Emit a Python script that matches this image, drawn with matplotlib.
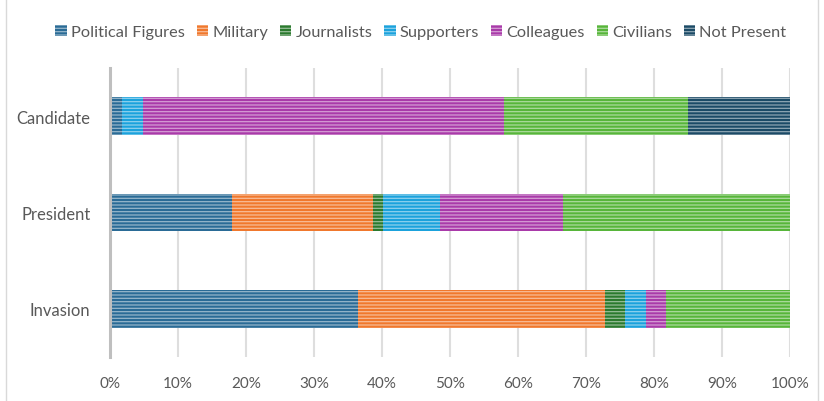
import numpy as np
import matplotlib.pyplot as plt
from matplotlib.patches import Patch
from matplotlib.lines import Line2D
from matplotlib.ticker import PercentFormatter

# stages, bottom to top
stages = ["Invasion", "President", "Candidate"]
groups = ["Political Figures", "Military", "Journalists", "Supporters",
          "Colleagues", "Civilians", "Not Present"]

# share of each group (%) per stage, order matches stages
political = [36.4, 17.9, 1.8]
military = [36.4, 20.8, 0.0]
journalists = [3.0, 1.4, 0.0]
supporters = [3.0, 8.4, 3.1]
colleagues = [3.0, 18.1, 53.0]
civilians = [18.2, 33.4, 27.1]
not_present = [0.0, 0.0, 15.0]

colors = ["#2a6b96", "#f0782d", "#2b7a2e", "#1ba2dc",
          "#a93aa9", "#57b53a", "#1b4a66"]

plt.rcParams["font.family"] = ["Lato", "DejaVu Sans"]
plt.rcParams["hatch.color"] = (1, 1, 1, 0.5)
plt.rcParams["hatch.linewidth"] = 0.9

fig = plt.figure(figsize=(8.24, 4.02), dpi=100)
ax = fig.add_axes([110 / 824, 1 - 358 / 402, 680 / 824, 289 / 402])

series = [political, military, journalists, supporters,
          colleagues, civilians, not_present]
y = np.arange(len(stages))
left = np.zeros(len(stages))
for name, vals, c in zip(groups, series, colors):
    vals = np.array(vals)
    ax.barh(y, vals, left=left, height=0.39, color=c, hatch="-----",
            label=name, zorder=3)
    left += vals

ax.set_xlim(0, 100)
ax.set_ylim(-0.5, 2.5)
ax.set_xticks(np.arange(0, 101, 10))
ax.xaxis.set_major_formatter(PercentFormatter(decimals=0))
ax.set_yticks(y)
ax.set_yticklabels(stages)
ax.tick_params(axis="both", length=0, colors="#595959")
ax.tick_params(axis="x", pad=14, labelsize=11)
ax.tick_params(axis="y", pad=14, labelsize=12)

ax.grid(axis="x", color="#dedede", linewidth=1.5, zorder=0)
for s in ["top", "right", "bottom"]:
    ax.spines[s].set_visible(False)
ax.spines["left"].set_color("#bfbfbf")
ax.spines["left"].set_linewidth(2.2)
ax.spines["left"].set_zorder(4)

handles = [Patch(facecolor=c, hatch="-----", label=n)
           for n, c in zip(groups, colors)]
fig.legend(handles=handles, loc="center",
           bbox_to_anchor=(0.5 + 9 / 824, 1 - 33 / 402),
           ncol=7, frameon=False, fontsize=11.8, labelcolor="#595959",
           handlelength=0.7, handleheight=0.7, handletextpad=0.25,
           columnspacing=0.72)

# chart-area border edges
for xpix in (6, 818):
    fig.add_artist(Line2D([xpix / 824, xpix / 824], [0, 1],
                          color="#d9d9d9", linewidth=1))

fig.savefig("out.png", dpi=100)
